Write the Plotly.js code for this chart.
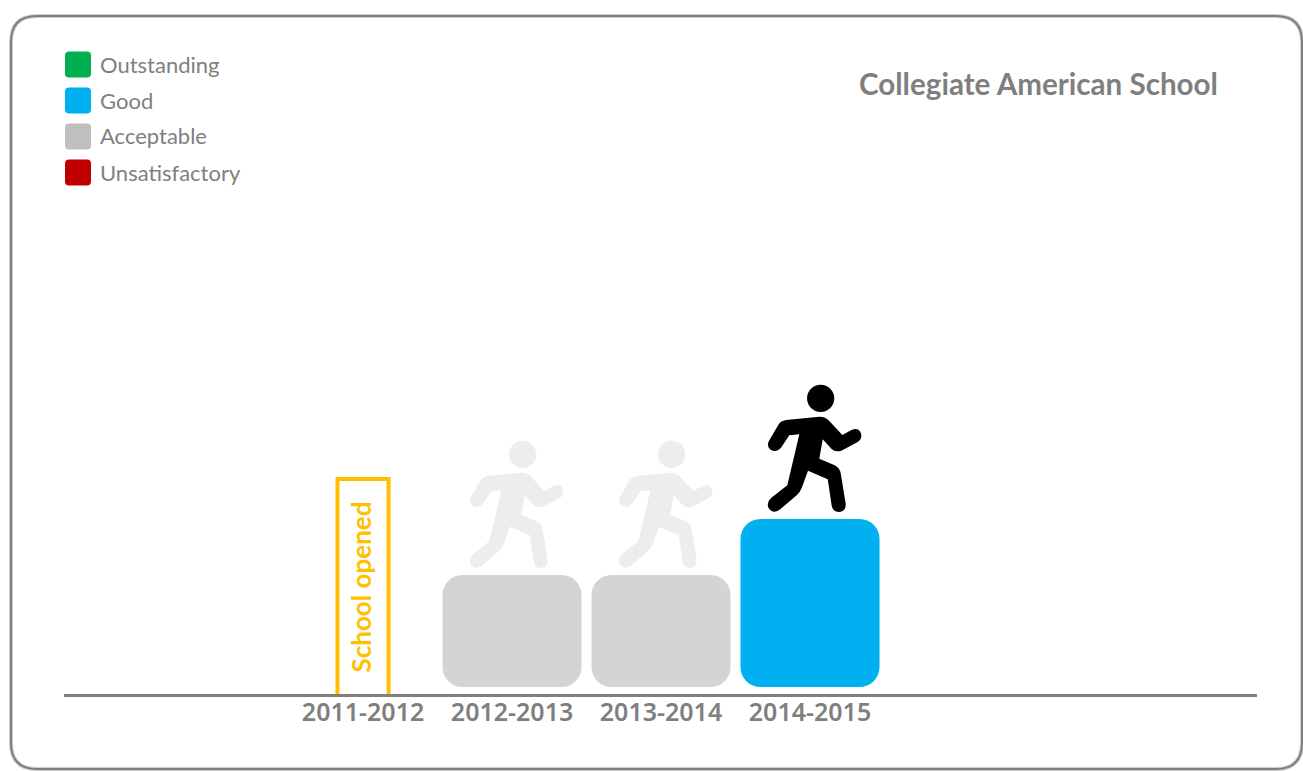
<!DOCTYPE html>
<html>
<head>
<meta charset="utf-8">
<script src="https://cdn.plot.ly/plotly-3.0.1.min.js"></script>
<style>html,body{margin:0;padding:0;background:#fff;overflow:hidden}</style>
</head>
<body>
<div id="chart" style="width:1303px;height:771px"></div>
<script>
// ---- data ----
const years = ['2011-2012', '2012-2013', '2013-2014', '2014-2015'];
const ratedYears = ['2012-2013', '2013-2014', '2014-2015'];
const ratingLevels = [2, 2, 3];          // Acceptable, Acceptable, Good
const ratingColors = ['#D4D4D4', '#D4D4D4', '#00B0F0'];
const runnerColors = ['#EDEDED', '#EDEDED', '#000000'];
const openedYear = ['2011-2012'];
const openedHeight = [3.84];
const legendNames = ['Outstanding', 'Good', 'Acceptable', 'Unsatisfactory'];
const legendColors = ['#00B050', '#00B0F0', '#BFBFBF', '#C00000'];
const chartTitle = 'Collegiate American School';
const barFloor = 0.125;

// ---- layout helpers (page pixels to plot-origin pixels) ----
const L = 64, B = 694, W = 1193, H = 674, UNIT = 56;
const X = p => p - L, Y = p => B - p;
const GREY = '#7F7F7F', FONT = 'Lato,sans-serif';

function pagePath(path, fill, lineColor, lineWidth) {
  return { type: 'path', xref: 'paper', yref: 'paper', xsizemode: 'pixel', ysizemode: 'pixel',
    xanchor: 0, yanchor: 0, path, fillcolor: fill, layer: 'below',
    line: { color: lineColor || fill, width: lineWidth || 0 } };
}
function roundRect(x0, y0, x1, y1, r) {
  const a = X(x0), b = X(x1), t = Y(y0), u = Y(y1);
  return `M${a + r},${t} L${b - r},${t} Q${b},${t} ${b},${t - r} L${b},${u + r} Q${b},${u} ${b - r},${u} ` +
         `L${a + r},${u} Q${a},${u} ${a},${u + r} L${a},${t - r} Q${a},${t} ${a + r},${t} Z`;
}

// runner outline, measured from top-centre of its bar, y up
function runnerPath() {
  const z = (x, y) => `${(x / 3 - 80).toFixed(1)},${(149 - y / 3).toFixed(1)}`;
  const head = (cx, cy, r) => {
    const k = 0.552 * r;
    return `M${z(cx - r, cy)} C${z(cx - r, cy - k)} ${z(cx - k, cy - r)} ${z(cx, cy - r)} ` +
      `C${z(cx + k, cy - r)} ${z(cx + r, cy - k)} ${z(cx + r, cy)} ` +
      `C${z(cx + r, cy + k)} ${z(cx + k, cy + r)} ${z(cx, cy + r)} ` +
      `C${z(cx - k, cy + r)} ${z(cx - r, cy + k)} ${z(cx - r, cy)} Z`;
  };
  const body =
    `M${z(117, 212)} L${z(146, 163)} Q${z(152, 153)} ${z(168, 150)} L${z(268, 140)} Q${z(287, 140)} ${z(298, 153)} ` +
    `L${z(337, 195)} L${z(366, 179)} Q${z(386, 172)} ${z(393, 190)} Q${z(397, 207)} ${z(383, 216)} ` +
    `L${z(334, 242)} Q${z(316, 248)} ${z(304, 236)} L${z(278, 208)} L${z(268, 266)} L${z(314, 286)} ` +
    `Q${z(329, 294)} ${z(332, 310)} L${z(347, 402)} Q${z(348, 424)} ${z(328, 426)} Q${z(309, 426)} ${z(305, 408)} ` +
    `L${z(293, 328)} L${z(234, 302)} L${z(215, 354)} Q${z(210, 367)} ${z(200, 376)} L${z(148, 420)} ` +
    `Q${z(128, 432)} ${z(116, 415)} Q${z(108, 398)} ${z(123, 384)} L${z(172, 346)} L${z(208, 193)} L${z(178, 196)} ` +
    `L${z(154, 232)} Q${z(141, 248)} ${z(123, 240)} Q${z(108, 230)} ${z(117, 212)} Z`;
  return body + ' ' + head(272, 85, 41);
}

// ---- traces ----
const rated = {
  type: 'bar', x: ratedYears, y: ratingLevels, base: ratingLevels.map(() => barFloor),
  width: 0.933, marker: { color: ratingColors, cornerradius: 20, line: { width: 0 } },
  hoverinfo: 'skip', showlegend: false
};
const opened = {
  type: 'bar', x: openedYear, y: openedHeight.map(v => v + 0.1), base: [-0.1], width: 0.343,
  marker: { color: 'rgba(0,0,0,0)', line: { color: '#FFC000', width: 4 } },
  hoverinfo: 'skip', showlegend: false
};

// ---- shapes and notes ----
const shapes = [
  pagePath(roundRect(11, 16, 1302, 769, 26), 'rgba(0,0,0,0)', '#CFCFCF', 4),
  pagePath(roundRect(11, 16, 1302, 769, 26), 'rgba(0,0,0,0)', '#7F7F7F', 2)
];
legendColors.forEach((c, i) => shapes.push(pagePath(roundRect(65, 51.5 + 36 * i, 91, 77.5 + 36 * i, 4), c)));
ratedYears.forEach((yr, i) => shapes.push({
  type: 'path', xref: 'x', yref: 'y', xsizemode: 'pixel', ysizemode: 'pixel',
  xanchor: yr, yanchor: ratingLevels[i] + barFloor, path: runnerPath(),
  fillcolor: runnerColors[i], line: { width: 0 }, layer: 'above'
}));

const annotations = legendNames.map((t, i) => ({
  text: t, xref: 'paper', yref: 'paper', x: X(98) / W, y: Y(64 + 36 * i) / H,
  xanchor: 'left', yanchor: 'middle', showarrow: false,
  font: { family: FONT, size: 22, color: GREY }
}));
annotations.push({
  text: chartTitle, xref: 'paper', yref: 'paper', x: X(1219.5) / W, y: Y(84) / H,
  xanchor: 'right', yanchor: 'middle', showarrow: false,
  font: { family: FONT, size: 29.6, color: GREY, weight: 700 }
});
annotations.push({
  text: 'School opened', xref: 'x', yref: 'y', x: openedYear[0], y: Y(587.5) / UNIT,
  textangle: -90, showarrow: false, xanchor: 'center', yanchor: 'middle', xshift: -3,
  font: { family: FONT, size: 26, color: '#FFC000', weight: 700 }
});

const layout = {
  width: 1303, height: 771, autosize: false,
  margin: { l: L, r: 1303 - L - W, t: B - H, b: 771 - B },
  paper_bgcolor: '#fff', plot_bgcolor: '#fff', barmode: 'overlay', showlegend: false,
  xaxis: { type: 'category', categoryorder: 'array', categoryarray: years, range: [-2.007, 6.0],
    showgrid: false, zeroline: false, showline: true, linecolor: GREY, linewidth: 2.5, ticks: '',
    tickvals: years, ticktext: years, ticklabelstandoff: -6,
    tickfont: { family: '"Noto Sans",sans-serif', size: 25, color: GREY, weight: 600 } },
  yaxis: { range: [0, H / UNIT], visible: false, fixedrange: true },
  shapes, annotations
};
Plotly.newPlot('chart', [opened, rated], layout, { displayModeBar: false, staticPlot: true });
</script>
</body>
</html>
